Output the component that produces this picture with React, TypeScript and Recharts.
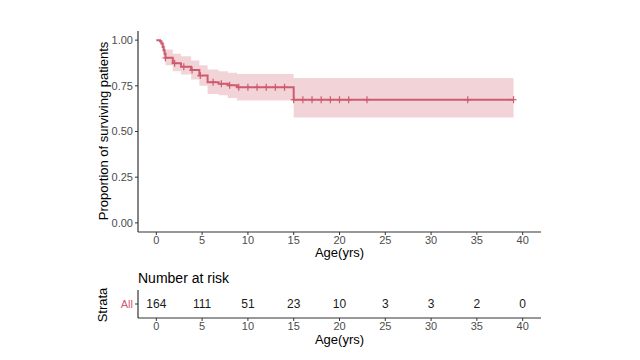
import React from "react";
import { ComposedChart, Area, Line, Scatter, XAxis, YAxis } from "recharts";

// Kaplan-Meier estimate
const stepTimes = [0, 0.4, 0.55, 0.7, 0.8, 0.9, 1.0, 1.8, 2.7, 3.8, 4.7, 5.6, 6.8, 7.8, 8.8, 15, 39];
const survival = [1.0, 0.994, 0.982, 0.963, 0.945, 0.925, 0.903, 0.874, 0.855, 0.836, 0.806, 0.77, 0.762, 0.753, 0.742, 0.674, 0.674];
const lowerCI = [1.0, 0.98, 0.96, 0.935, 0.91, 0.885, 0.863, 0.83, 0.812, 0.784, 0.75, 0.705, 0.698, 0.684, 0.669, 0.577, 0.577];
const upperCI = [1.0, 1.0, 0.998, 0.99, 0.98, 0.965, 0.949, 0.925, 0.912, 0.888, 0.863, 0.839, 0.83, 0.821, 0.815, 0.793, 0.793];

// censored observations
const censorTimes = [1.0, 2.0, 3.0, 3.9, 4.8, 6.2, 7.1, 8.0, 9, 10, 11, 12, 13, 14, 15, 16, 17, 18, 19, 20, 21, 23, 34, 39];

// number at risk table
const strataNames = ["All"];
const riskTimes = [0, 5, 10, 15, 20, 25, 30, 35, 40];
const riskCounts = [164, 111, 51, 23, 10, 3, 3, 2, 0];

const xTicks = [0, 5, 10, 15, 20, 25, 30, 35, 40];
const yTicks = [0, 0.25, 0.5, 0.75, 1];

const LINE = "#CF5B6E";
const AXIS = "#333333";
const TICK_TEXT = "#4D4D4D";
const FONT = "'Liberation Sans', Arial, sans-serif";

const curveData = stepTimes.map((t, i) => ({
  time: t,
  surv: survival[i],
  ci: [lowerCI[i], upperCI[i]],
}));

function survAt(t: number) {
  let s = survival[0];
  stepTimes.forEach((st, i) => {
    if (st <= t) s = survival[i];
  });
  return s;
}

const censorData = censorTimes.map((t) => ({ time: t, surv: survAt(t) }));

// strata row 1 = "All"
const riskData = riskTimes.map((t, i) => ({ time: t, row: 1, n: riskCounts[i] }));

const CensorMark = (props: any) => {
  const { cx, cy } = props;
  return (
    <g stroke={LINE} strokeWidth={1.2}>
      <line x1={cx - 3} x2={cx + 3} y1={cy} y2={cy} />
      <line x1={cx} x2={cx} y1={cy - 3.5} y2={cy + 3.5} />
    </g>
  );
};

const RiskCount = (props: any) => {
  const { cx, cy, payload } = props;
  return (
    <text x={cx} y={cy} textAnchor="middle" dominantBaseline="central" fontSize={12} fill="#1a1a1a">
      {payload.n}
    </text>
  );
};

export default function App() {
  return (
    <div
      style={{
        position: "absolute",
        left: 0,
        top: 0,
        width: 640,
        height: 360,
        background: "#fff",
        fontFamily: FONT,
      }}
    >
      {/* survival curve */}
      <div style={{ position: "absolute", left: 0, top: 0 }}>
        <ComposedChart width={640} height={262} data={curveData} margin={{ top: 31, right: 99, bottom: 0, left: 0 }}>
          <XAxis
            dataKey="time"
            type="number"
            domain={[-2, 42]}
            ticks={xTicks}
            height={30}
            tickSize={3}
            tickMargin={1}
            tick={{ fontSize: 11, fill: TICK_TEXT }}
            axisLine={{ stroke: AXIS, strokeWidth: 1.2 }}
            tickLine={{ stroke: AXIS }}
            label={{ value: "Age(yrs)", position: "insideBottom", offset: 5, fontSize: 13, fill: "#000" }}
          />
          <YAxis
            type="number"
            domain={[-0.05, 1.05]}
            ticks={yTicks}
            width={138}
            tickSize={3}
            tickMargin={2}
            tickFormatter={(v: number) => v.toFixed(2)}
            tick={{ fontSize: 11, fill: TICK_TEXT }}
            axisLine={{ stroke: AXIS, strokeWidth: 1.2 }}
            tickLine={{ stroke: AXIS }}
          />
          <Area
            dataKey="ci"
            type="stepAfter"
            stroke="none"
            fill={LINE}
            fillOpacity={0.27}
            isAnimationActive={false}
          />
          <Line
            dataKey="surv"
            type="stepAfter"
            stroke={LINE}
            strokeWidth={2}
            dot={false}
            isAnimationActive={false}
          />
          <Scatter data={censorData} dataKey="surv" shape={<CensorMark />} isAnimationActive={false} />
        </ComposedChart>
      </div>

      {/* number at risk */}
      <div style={{ position: "absolute", left: 0, top: 0 }}>
        <ComposedChart width={640} height={360} margin={{ top: 290, right: 99, bottom: 0, left: 0 }}>
          <XAxis
            dataKey="time"
            type="number"
            domain={[-2, 42]}
            ticks={xTicks}
            height={42}
            tickSize={3}
            tickMargin={1}
            tick={{ fontSize: 11, fill: TICK_TEXT }}
            axisLine={{ stroke: AXIS, strokeWidth: 1.2 }}
            tickLine={{ stroke: AXIS }}
            label={{ value: "Age(yrs)", position: "insideBottom", offset: 16, fontSize: 13, fill: "#000" }}
          />
          <YAxis
            dataKey="row"
            type="number"
            domain={[0.5, 1.5]}
            ticks={[1]}
            width={138}
            tickSize={3}
            tickMargin={2}
            tickFormatter={(v: number) => strataNames[v - 1]}
            tick={{ fontSize: 11, fill: LINE }}
            axisLine={{ stroke: AXIS, strokeWidth: 1.2 }}
            tickLine={{ stroke: AXIS }}
          />
          <Scatter data={riskData} dataKey="row" shape={<RiskCount />} isAnimationActive={false} />
        </ComposedChart>
      </div>

      {/* titles */}
      <svg width={640} height={360} style={{ position: "absolute", left: 0, top: 0, pointerEvents: "none" }}>
        <text
          transform="translate(103,131) rotate(-90)"
          textAnchor="middle"
          dominantBaseline="central"
          fontSize={13}
          fill="#000"
        >
          Proportion of surviving patients
        </text>
        <text x={138} y={283} fontSize={14} fill="#000">
          Number at risk
        </text>
        <text
          transform="translate(102,305) rotate(-90)"
          textAnchor="middle"
          dominantBaseline="central"
          fontSize={13}
          fill="#000"
        >
          Strata
        </text>
      </svg>
    </div>
  );
}
